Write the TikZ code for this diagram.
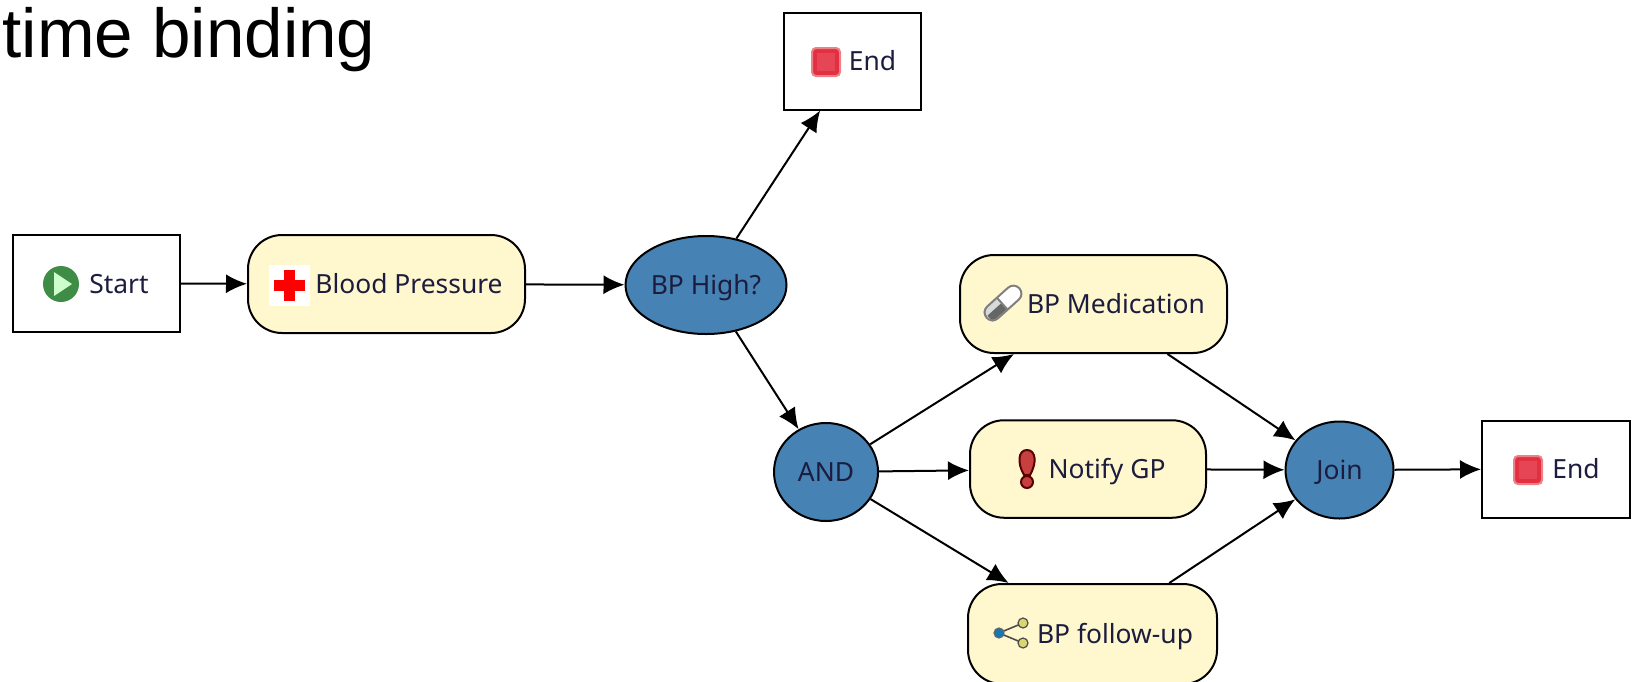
\documentclass[tikz,border=0pt]{standalone}
\usepackage{fontspec}
\setmainfont{Noto Sans}
\newfontfamily\titlefont{Liberation Sans}
\usetikzlibrary{arrows.meta,shapes.geometric}
\definecolor{taskyellow}{RGB}{255,248,207}
\definecolor{gateblue}{RGB}{70,130,180}
\definecolor{labelnavy}{RGB}{28,28,62}
\definecolor{stopred}{RGB}{226,48,66}
\definecolor{stopedge}{RGB}{235,130,135}
\definecolor{startgreen}{RGB}{62,140,70}
\definecolor{dotkhaki}{RGB}{216,214,110}
\definecolor{dotblue}{RGB}{20,120,180}
\tikzset{
  termbox/.style={draw=black,line width=1pt,fill=white,rectangle,text=labelnavy,font=\fontsize{13.2}{15}\selectfont,text height=10pt,text depth=.5pt},
  taskbox/.style={draw=black,line width=1pt,fill=taskyellow,rectangle,rounded corners=17pt,text=labelnavy,font=\fontsize{13.2}{15}\selectfont,text height=10pt,text depth=.5pt},
  gate/.style={draw=black,line width=1pt,fill=gateblue,ellipse,inner sep=0pt,text=labelnavy,font=\fontsize{13.2}{15}\selectfont,text height=10pt,text depth=.5pt},
  flow/.style={draw=black,line width=1pt,-{Latex[length=10.5pt,width=9.5pt]}},
}
% icons, argument is the centre
\newcommand{\stopicon}[1]{
  \begin{scope}[shift={#1}]
    \fill[rounded corners=2pt,fill=stopred,draw=stopedge,line width=1pt] (-14,-14) rectangle (14,14);
    \fill[stopred!90!white] (-9,-9) rectangle (9,9);
  \end{scope}}
\newcommand{\starticon}[1]{
  \begin{scope}[shift={#1}]
    \fill[startgreen] (0,0) circle (18);
    \fill[white!80!green] (-7,-12) -- (11,0) -- (-7,12) -- cycle;
  \end{scope}}
\newcommand{\crossicon}[1]{
  \begin{scope}[shift={#1}]
    \fill[white] (-20.5,-20.5) rectangle (20.5,20.5);
    \fill[red] (-15.5,-5.5) rectangle (15.5,5.5);
    \fill[red] (-5.5,-15.5) rectangle (5.5,15.5);
  \end{scope}}
\newcommand{\pillicon}[1]{
  \begin{scope}[shift={#1},rotate=42]
    \fill[white,rounded corners=4pt] (-22,-8) rectangle (22,8);
    \fill[black!15,rounded corners=2pt] (-22,-8) rectangle (-1,8);
    \fill[black!60] (-20,-1) rectangle (-1,7);
    \draw[black!50,line width=1pt] (-1,-8) -- (-1,8);
    \draw[black!50,line width=1pt,rounded corners=4pt] (-22,-8) rectangle (22,8);
  \end{scope}}
\newcommand{\warnicon}[1]{
  \begin{scope}[shift={#1}]
    \draw[fill=red!70!black!75,draw=red!35!black,line width=1pt] (-3,6) .. controls (-10,-6) and (-9,-19) .. (0,-19) .. controls (9,-19) and (10,-6) .. (3,6) -- cycle;
    \draw[fill=red!70!black!75,draw=red!35!black,line width=1pt] (0,13) circle (6);
  \end{scope}}
\newcommand{\forkicon}[1]{
  \begin{scope}[shift={#1}]
    \draw[black!70,line width=.8pt] (24,-10) -- (0,0) -- (24,10);
    \draw[fill=dotblue,draw=black!60,line width=.6pt] (0,0) circle (5);
    \draw[fill=dotkhaki,draw=black!70,line width=.6pt] (24,-10) circle (5);
    \draw[fill=dotkhaki,draw=black!70,line width=.6pt] (24,10) circle (5);
  \end{scope}}

\begin{document}
\begin{tikzpicture}[x=0.5pt,y=-0.5pt]
  \useasboundingbox (0,0) rectangle (1636,681);
  \node[anchor=base west,inner sep=0pt,font=\fontsize{34.6}{40}\selectfont\titlefont] (title) at (2,57) {time binding};
  % nodes
  \node[termbox,minimum width=83.5pt,minimum height=48.5pt] (start) at (96,283.5) {\hspace*{23pt}Start};
  \node[taskbox,minimum width=138.5pt,minimum height=49pt] (pressure) at (386.5,284) {\hspace*{22.5pt}Blood Pressure};
  \node[gate,minimum width=80.5pt,minimum height=49pt] (high) at (706,285) {BP High?};
  \node[termbox,minimum width=68.5pt,minimum height=48.5pt] (endtop) at (852.5,61) {\hspace*{20pt}End};
  \node[gate,minimum width=52pt,minimum height=49pt] (and) at (826,472) {AND};
  \node[taskbox,minimum width=133.5pt,minimum height=49pt] (medication) at (1093.5,304) {\hspace*{22.5pt}BP Medication};
  \node[taskbox,minimum width=118pt,minimum height=48.75pt] (notify) at (1088,469) {\hspace*{19pt}Notify GP};
  \node[taskbox,minimum width=124.5pt,minimum height=50pt] (followup) at (1092.5,634) {\hspace*{22.5pt}BP follow-up};
  \node[gate,minimum width=54pt,minimum height=48.5pt] (join) at (1339.5,470) {Join};
  \node[termbox,minimum width=74pt,minimum height=48.5pt] (endright) at (1556,469) {\hspace*{20pt}End};
  % connectors
  \draw[flow] (start) -- (pressure);
  \draw[flow] (pressure) -- (high);
  \draw[flow] (high) -- (endtop);
  \draw[flow] (high) -- (and);
  \draw[flow] (and) -- (medication);
  \draw[flow] (and) -- (notify);
  \draw[flow] (and) -- (followup);
  \draw[flow] (medication) -- (join);
  \draw[flow] (notify) -- (join);
  \draw[flow] (followup) -- (join);
  \draw[flow] (join) -- (endright);
  % icons
  \starticon{(61,284)}
  \crossicon{(289.5,285)}
  \stopicon{(826,62)}
  \pillicon{(1003,303)}
  \warnicon{(1027,469)}
  \forkicon{(999,633)}
  \stopicon{(1528,470)}
\end{tikzpicture}
\end{document}
